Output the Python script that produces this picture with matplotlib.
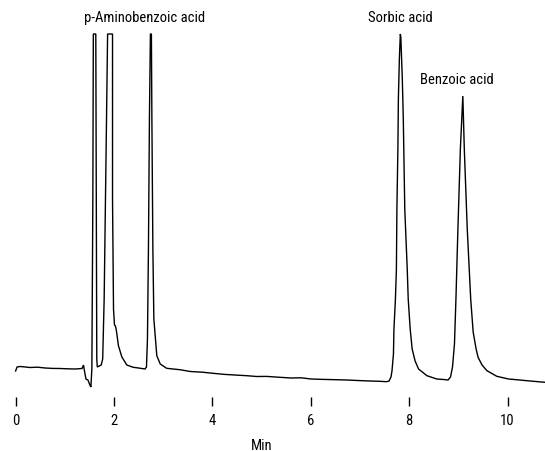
import matplotlib
matplotlib.use("Agg")
import matplotlib.pyplot as plt

# Chromatogram trace (time in min, detector signal in arbitrary units)
time_min = [0.00, 0.03, 0.09, 0.20, 0.29, 0.45, 0.60, 0.75, 0.90, 1.05, 1.21, 1.35,
            1.38, 1.40, 1.43, 1.47, 1.51, 1.53, 1.55, 1.57, 1.58, 1.63, 1.64, 1.65,
            1.66, 1.70, 1.74, 1.77, 1.80, 1.84, 1.87, 1.97, 1.97, 1.99, 2.01, 2.03,
            2.05, 2.09, 2.16, 2.26, 2.39, 2.50, 2.63, 2.66, 2.68, 2.70, 2.72, 2.74,
            2.76, 2.77, 2.79, 2.81, 2.87, 2.94, 3.07, 3.20, 3.34, 3.55, 3.80, 4.01,
            4.25, 4.45, 4.70, 4.90, 5.10, 5.37, 5.60, 5.80, 6.01, 6.25, 6.50, 6.73,
            6.95, 7.20, 7.41, 7.54, 7.59, 7.63, 7.65, 7.68, 7.69, 7.72, 7.74, 7.75,
            7.77, 7.78, 7.80, 7.82, 7.83, 7.86, 7.88, 7.91, 7.96, 7.98, 8.02, 8.06,
            8.12, 8.19, 8.36, 8.56, 8.70, 8.79, 8.84, 8.88, 8.92, 8.95, 8.99, 9.04,
            9.09, 9.12, 9.18, 9.25, 9.30, 9.36, 9.40, 9.48, 9.58, 9.78, 10.02, 10.20,
            10.39, 10.55, 10.76]
signal = [28.0, 32.0, 32.5, 32.0, 31.5, 31.8, 31.0, 30.6, 30.5, 30.2, 30.0, 30.5,
          34.0, 28.0, 20.0, 19.0, 14.0, 12.0, 30.0, 200.0, 365.0, 365.0, 200.0, 40.0,
          32.0, 33.0, 34.0, 40.0, 100.0, 250.0, 365.0, 365.0, 200.0, 90.0, 74.0, 73.0,
          68.0, 53.3, 42.0, 34.0, 31.7, 31.0, 30.0, 32.0, 60.0, 150.0, 280.0, 365.0,
          365.0, 280.0, 150.0, 80.0, 43.3, 35.0, 30.7, 30.0, 29.3, 27.5, 26.8, 25.7,
          24.6, 24.0, 23.3, 22.5, 22.6, 21.7, 21.0, 21.2, 20.0, 19.6, 19.3, 19.0,
          18.5, 18.0, 17.7, 17.3, 18.0, 22.0, 28.0, 45.0, 70.0, 100.0, 130.0, 190.0,
          250.0, 300.0, 340.0, 365.0, 362.0, 320.0, 280.0, 190.0, 130.0, 100.0, 70.0, 50.0,
          38.0, 30.0, 23.3, 20.0, 19.5, 19.0, 22.0, 32.0, 55.0, 100.0, 170.0, 250.0,
          303.0, 250.0, 170.0, 100.0, 67.0, 50.0, 41.7, 34.0, 28.3, 22.7, 20.0, 19.2,
          18.3, 17.6, 16.7]

tick_values = [0, 2, 4, 6, 8, 10]
peak_names = ["p-Aminobenzoic acid", "Sorbic acid", "Benzoic acid"]
label_x = [2.63, 7.83, 8.97]
label_y = [382.0, 382.0, 320.0]

font = ["Roboto Condensed", "Archivo Narrow", "DejaVu Sans"]
fsize = 10.5

fig = plt.figure(figsize=(5.45, 4.52), dpi=100)
ax = fig.add_axes([0.0, 54 / 452, 1.0, 398 / 452])
ax.plot(time_min, signal, color="black", linewidth=1.0, solid_joinstyle="miter")

px_per_min = 49.2
x0 = 15.6
ax.set_xlim(-x0 / px_per_min, (545 - x0) / px_per_min)
ax.set_ylim(2, 400)

for s in ax.spines.values():
    s.set_visible(False)
ax.set_yticks([])
ax.set_xticks(tick_values)
ax.set_xticklabels([str(v) for v in tick_values], family=font, fontsize=fsize)
ax.tick_params(axis="x", direction="out", length=6.5, width=1.0, color="black", pad=5)

for name, lx, ly in zip(peak_names, label_x, label_y):
    ax.text(lx, ly, name, ha="center", va="center", family=font, fontsize=fsize)

fig.text((x0 + 5 * px_per_min) / 545, 6 / 452, "Min", ha="center", va="center",
         family=font, fontsize=fsize)

fig.savefig("out.png", dpi=100)
